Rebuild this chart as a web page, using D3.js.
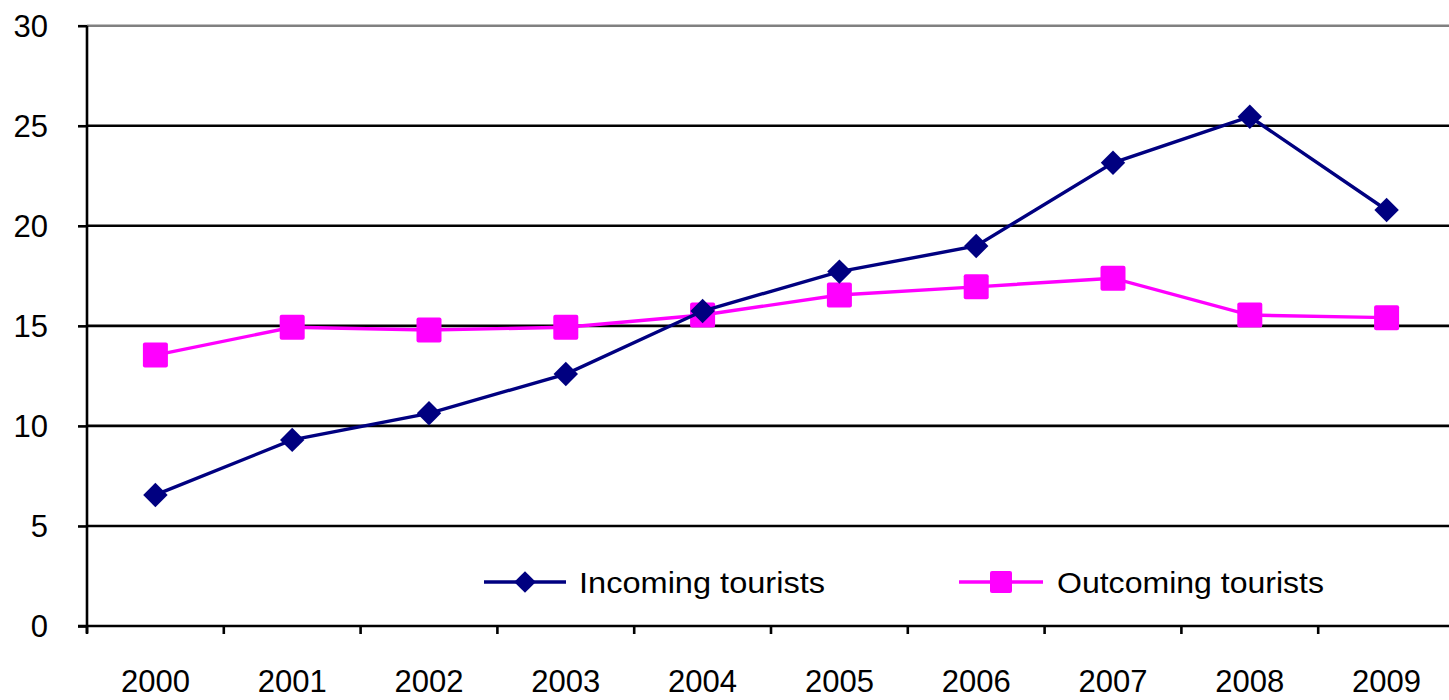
<!DOCTYPE html>
<html lang="en">
<head>
  <meta charset="UTF-8">
  <title>Incoming and outcoming tourists</title>
  <script src="https://d3js.org/d3.v7.min.js"></script>
  <style>
    body { margin: 0; background: #fff; }
    svg text { font-family: Arial, "Liberation Sans", sans-serif; fill: #000; }
  </style>
</head>
<body>
  <script>
    // chart data
    const years = ["2000", "2001", "2002", "2003", "2004", "2005", "2006", "2007", "2008", "2009"];
    const incoming = [6.55, 9.3, 10.63, 12.59, 15.74, 17.71, 18.99, 23.15, 25.45, 20.79];
    const outcoming = [13.54, 14.93, 14.79, 14.93, 15.54, 16.54, 16.95, 17.38, 15.54, 15.41];
    const yTicks = [0, 5, 10, 15, 20, 25, 30];
    const seriesNames = ["Incoming tourists", "Outcoming tourists"];

    const width = 1449, height = 700;
    const plot = {left: 87, top: 25.7, bottom: 626, right: 1455};

    const svg = d3.select("body").append("svg")
      .attr("width", width).attr("height", height);

    const x = d3.scaleBand().domain(years).range([plot.left, plot.right]);
    const y = d3.scaleLinear().domain([0, 30]).range([plot.bottom, plot.top]);

    // horizontal gridlines
    svg.append("g").selectAll("line")
      .data(yTicks.filter(d => d > 0))
      .join("line")
      .attr("x1", plot.left).attr("x2", width)
      .attr("y1", d => y(d)).attr("y2", d => y(d))
      .attr("stroke", d => d === 30 ? "#808080" : "#000")
      .attr("stroke-width", 2.6);

    // y axis
    const yAxis = svg.append("g")
      .attr("transform", `translate(${plot.left},0)`)
      .call(d3.axisLeft(y).tickValues(yTicks).tickSize(9).tickPadding(8));
    yAxis.select(".domain").remove();
    yAxis.append("line")
      .attr("y1", plot.top).attr("y2", plot.bottom + 7)
      .attr("stroke", "#000").attr("stroke-width", 2.6);
    yAxis.selectAll(".tick line").attr("stroke-width", 2.6).attr("x1", 0);
    yAxis.selectAll(".tick text")
      .attr("x", -39)
      .style("font-size", "31px")
      .attr("dy", "0.35em");

    // x axis line and boundary ticks
    svg.append("line")
      .attr("x1", plot.left - 9).attr("x2", width)
      .attr("y1", y(0)).attr("y2", y(0))
      .attr("stroke", "#000").attr("stroke-width", 2.6);
    svg.append("g").selectAll("line")
      .data(years)
      .join("line")
      .attr("x1", d => x(d)).attr("x2", d => x(d))
      .attr("y1", y(0)).attr("y2", y(0) + 8)
      .attr("stroke", "#000").attr("stroke-width", 2.6);
    svg.append("g").selectAll("text")
      .data(years)
      .join("text")
      .attr("x", d => x(d) + x.bandwidth() / 2)
      .attr("y", 692)
      .attr("text-anchor", "middle")
      .style("font-size", "31px")
      .text(d => d);

    const cx = (d, i) => x(years[i]) + x.bandwidth() / 2;
    const line = d3.line().x(cx).y(d => y(d));

    // outcoming series
    svg.append("path")
      .datum(outcoming)
      .attr("d", line)
      .attr("fill", "none").attr("stroke", "#ff00ff").attr("stroke-width", 3.4);
    svg.append("g").selectAll("rect")
      .data(outcoming)
      .join("rect")
      .attr("x", (d, i) => cx(d, i) - 12.5)
      .attr("y", d => y(d) - 12.5)
      .attr("width", 25).attr("height", 25)
      .attr("rx", 2)
      .attr("fill", "#ff00ff");

    // incoming series
    const diamond = d3.symbol().type(d3.symbolDiamond2).size(380);
    svg.append("path")
      .datum(incoming)
      .attr("d", line)
      .attr("fill", "none").attr("stroke", "#000080").attr("stroke-width", 3.4);
    svg.append("g").selectAll("path")
      .data(incoming)
      .join("path")
      .attr("d", diamond)
      .attr("transform", (d, i) => `translate(${cx(d, i)},${y(d)})`)
      .attr("fill", "#000080");

    // legend
    const legend = svg.append("g");
    const items = [
      {name: seriesNames[0], color: "#000080", x0: 484, x1: 566, textX: 579, textW: 246, marker: "diamond"},
      {name: seriesNames[1], color: "#ff00ff", x0: 959, x1: 1043, textX: 1057, textW: 267, marker: "square"}
    ];
    const ly = 582;
    items.forEach(it => {
      legend.append("line")
        .attr("x1", it.x0).attr("x2", it.x1)
        .attr("y1", ly).attr("y2", ly)
        .attr("stroke", it.color).attr("stroke-width", 3.4);
      const mx = (it.x0 + it.x1) / 2;
      if (it.marker === "diamond") {
        legend.append("path")
          .attr("d", d3.symbol().type(d3.symbolDiamond2).size(300))
          .attr("transform", `translate(${mx},${ly})`)
          .attr("fill", it.color);
      } else {
        legend.append("rect")
          .attr("x", mx - 11).attr("y", ly - 11)
          .attr("width", 22).attr("height", 22).attr("rx", 2)
          .attr("fill", it.color);
      }
      legend.append("text")
        .attr("x", it.textX).attr("y", ly + 11)
        .style("font-size", "29px")
        .attr("textLength", it.textW)
        .attr("lengthAdjust", "spacingAndGlyphs")
        .text(it.name);
    });
  </script>
</body>
</html>
